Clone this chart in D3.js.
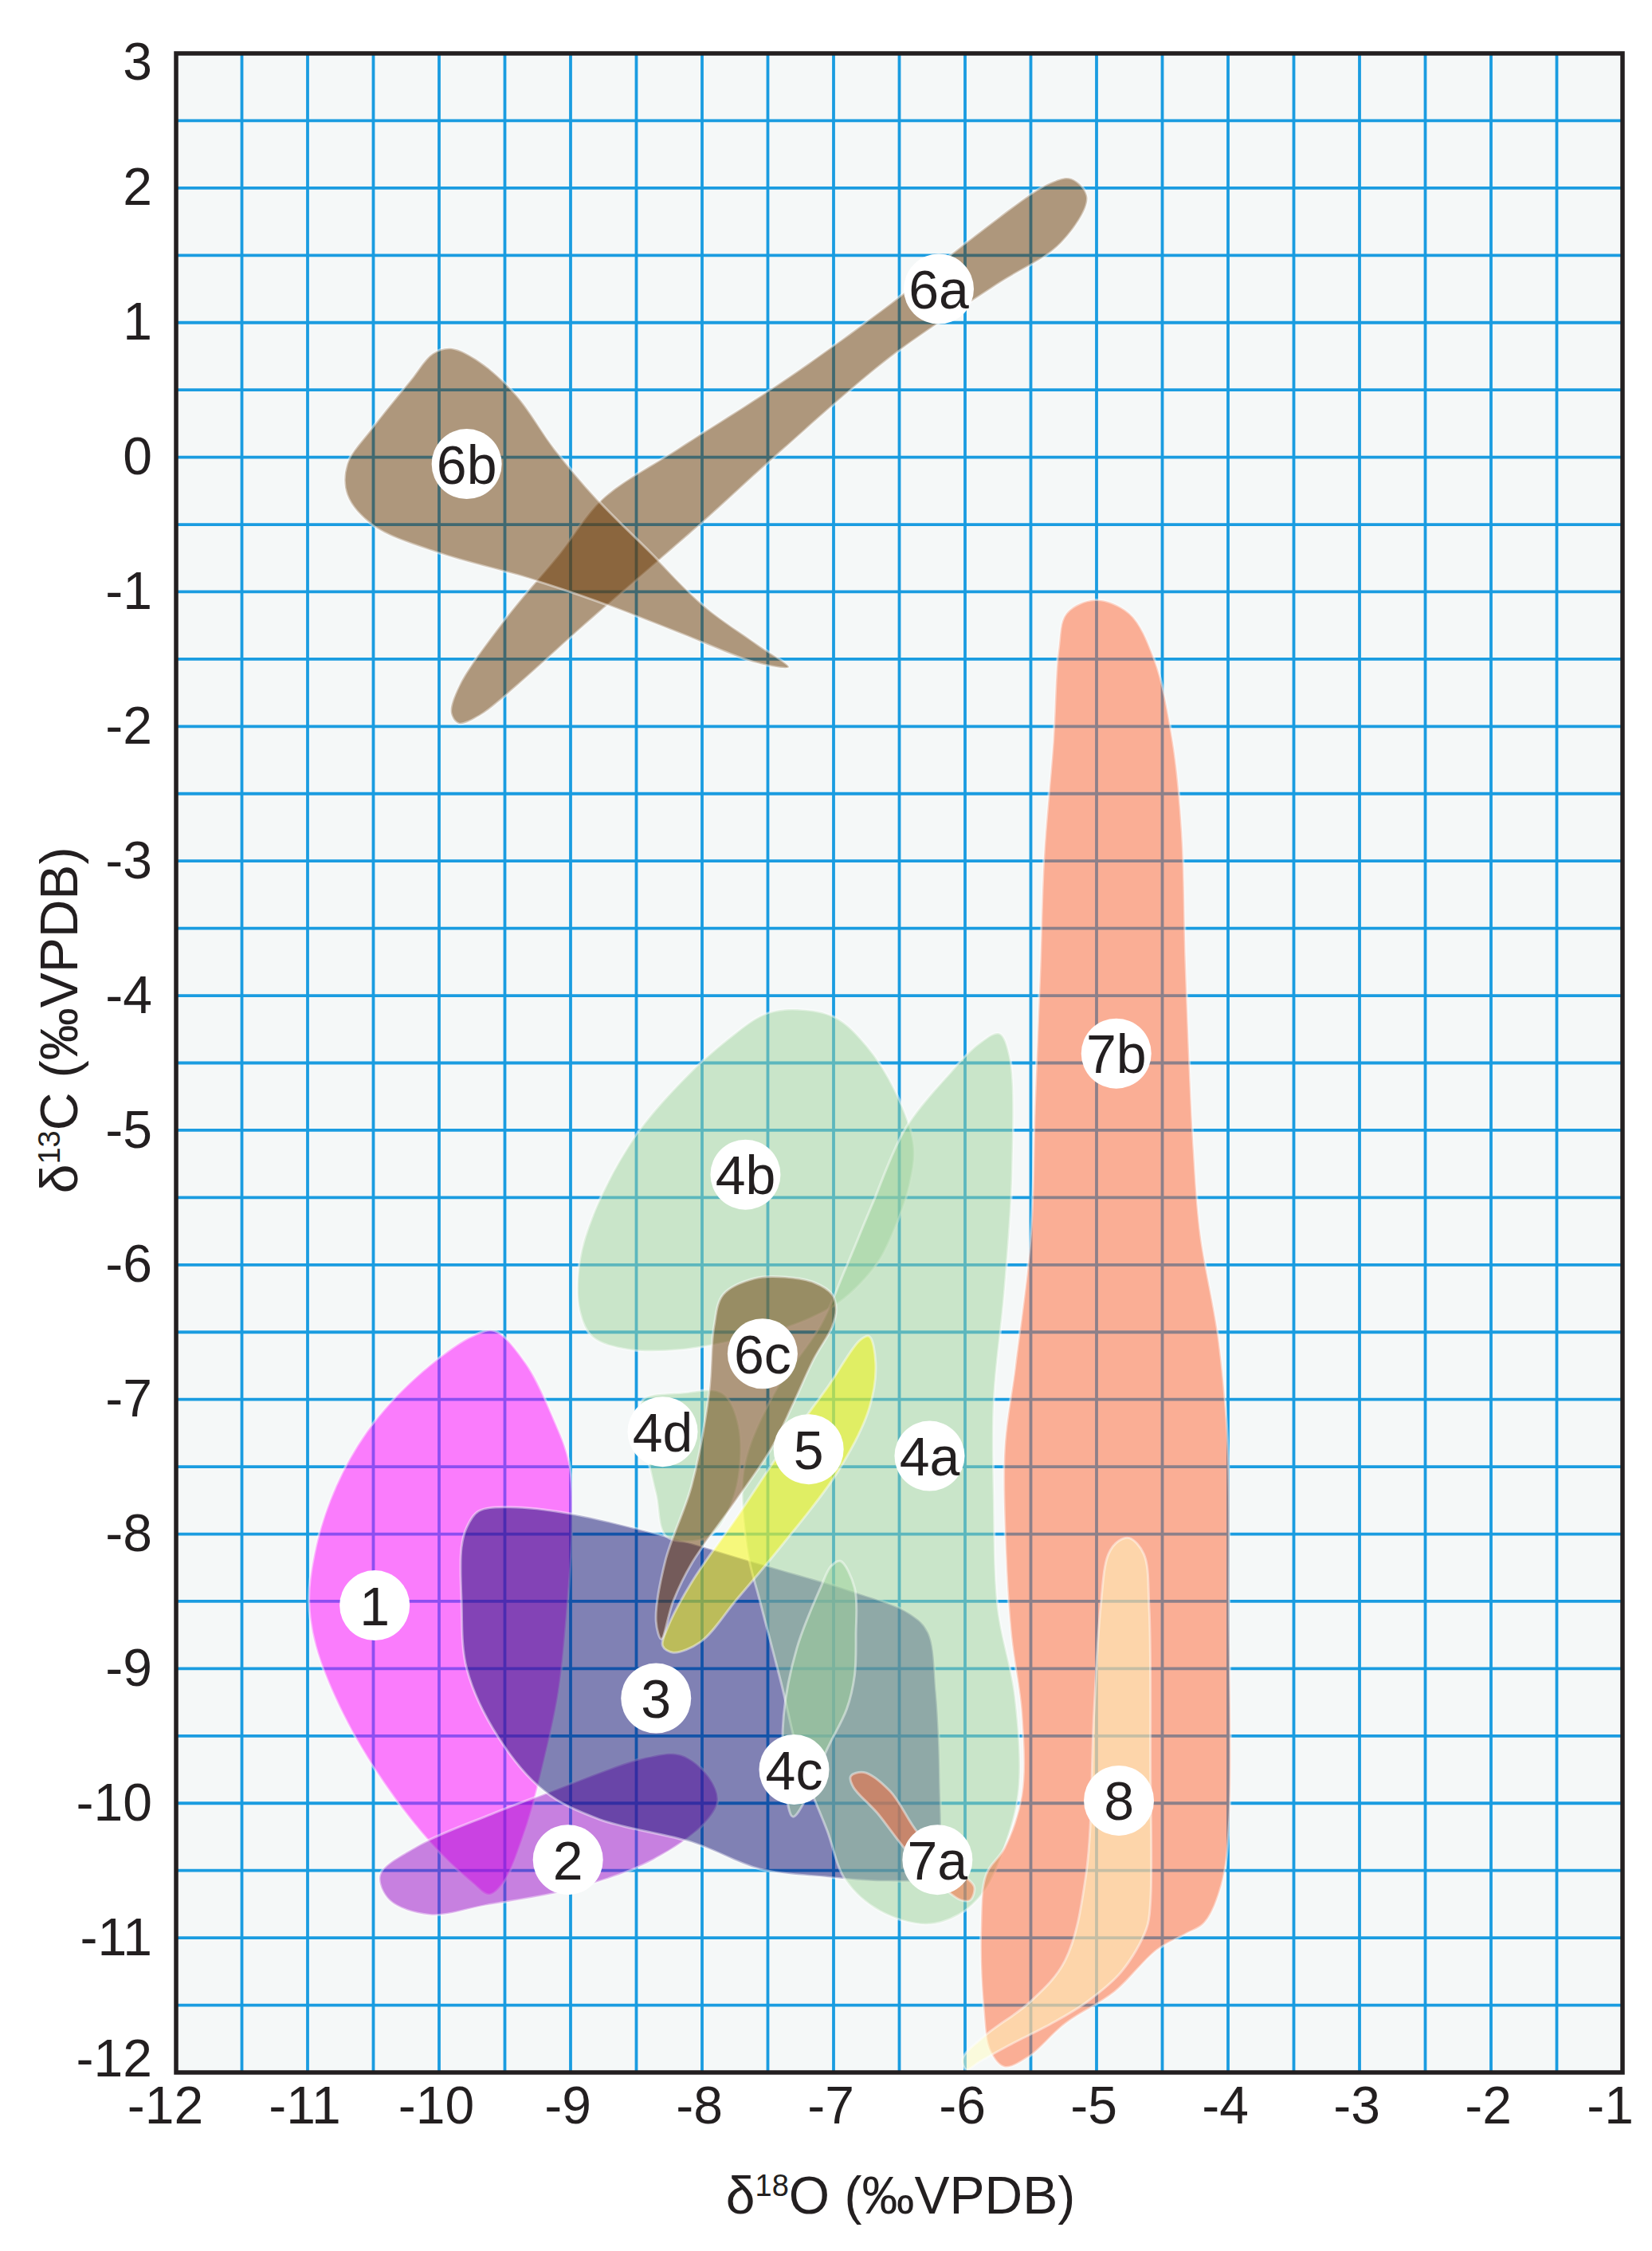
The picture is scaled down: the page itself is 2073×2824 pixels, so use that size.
<!DOCTYPE html>
<html>
<head>
<meta charset="utf-8">
<script src="https://cdn.jsdelivr.net/npm/d3@7"></script>
<style>
  body { margin: 0; background: #fff; }
  text { font-family: "Liberation Sans", Arial, sans-serif; fill: #231f20; }
</style>
</head>
<body>
<svg id="chart" width="2073" height="2824"></svg>
<script>
// axis ticks
const xTicks = [-12, -11, -10, -9, -8, -7, -6, -5, -4, -3, -2, -1];
const yTicks = [3, 2, 1, 0, -1, -2, -3, -4, -5, -6, -7, -8, -9, -10, -11, -12];

// fields, [d18O, d13C] outline points
const field1 = [[-9.58,-6.49],[-9.34,-6.73],[-9.13,-7.14],[-9.01,-7.47],[-8.99,-7.98],[-9.02,-8.49],[-9.09,-9.17],[-9.20,-9.68],[-9.34,-10.19],[-9.51,-10.59],[-9.62,-10.68],[-9.75,-10.59],[-10.07,-10.29],[-10.42,-9.85],[-10.73,-9.34],[-10.94,-8.83],[-10.99,-8.49],[-10.95,-8.15],[-10.83,-7.75],[-10.62,-7.34],[-10.35,-7.00],[-10.00,-6.69],[-9.75,-6.53]];
const field2 = [[-10.45,-10.53],[-10.17,-10.32],[-9.60,-10.08],[-9.20,-9.93],[-8.43,-9.66],[-8.16,-9.64],[-7.95,-9.80],[-7.88,-9.98],[-7.98,-10.15],[-8.37,-10.42],[-8.95,-10.63],[-9.65,-10.76],[-10.07,-10.83],[-10.38,-10.72]];
const field3 = [[-9.79,-7.95],[-9.70,-7.83],[-9.48,-7.80],[-8.99,-7.85],[-8.26,-8.02],[-7.56,-8.22],[-6.87,-8.42],[-6.42,-8.59],[-6.28,-8.73],[-6.22,-9.17],[-6.19,-9.85],[-6.20,-10.35],[-6.30,-10.55],[-6.60,-10.58],[-7.04,-10.55],[-7.56,-10.49],[-8.08,-10.29],[-8.78,-10.12],[-9.20,-9.91],[-9.55,-9.51],[-9.79,-9.00],[-9.83,-8.49],[-9.83,-8.10]];
const field4a = [[-5.74,-4.28],[-5.66,-4.45],[-5.64,-5.30],[-5.70,-6.20],[-5.78,-7.00],[-5.78,-7.75],[-5.75,-8.55],[-5.62,-9.20],[-5.59,-9.90],[-5.70,-10.33],[-5.85,-10.65],[-6.05,-10.83],[-6.30,-10.90],[-6.65,-10.80],[-6.91,-10.57],[-7.05,-10.20],[-7.25,-9.70],[-7.40,-9.10],[-7.56,-8.50],[-7.66,-8.10],[-7.68,-7.50],[-7.45,-6.95],[-7.10,-6.45],[-6.91,-6.03],[-6.71,-5.56],[-6.45,-4.98],[-6.12,-4.58],[-5.90,-4.36]];
const field4b = [[-7.31,-4.10],[-6.99,-4.16],[-6.75,-4.37],[-6.53,-4.71],[-6.39,-5.11],[-6.42,-5.40],[-6.53,-5.72],[-6.66,-5.98],[-6.88,-6.22],[-7.04,-6.33],[-7.34,-6.46],[-7.74,-6.56],[-8.15,-6.63],[-8.56,-6.63],[-8.83,-6.54],[-8.93,-6.35],[-8.93,-5.96],[-8.80,-5.56],[-8.50,-5.03],[-8.15,-4.63],[-7.80,-4.32],[-7.53,-4.14]];
const field4c = [[-6.95,-8.20],[-6.84,-8.40],[-6.83,-8.75],[-6.84,-9.05],[-6.90,-9.30],[-7.05,-9.60],[-7.20,-9.95],[-7.31,-10.10],[-7.37,-9.85],[-7.38,-9.35],[-7.28,-8.85],[-7.10,-8.40],[-7.02,-8.24]];
const field4d = [[-8.45,-7.00],[-8.15,-6.95],[-7.85,-6.95],[-7.72,-7.20],[-7.75,-7.70],[-7.95,-8.02],[-8.27,-8.02],[-8.35,-7.71],[-8.41,-7.45],[-8.46,-7.15]];
const field5 = [[-6.73,-6.53],[-6.68,-6.73],[-6.73,-7.07],[-6.97,-7.54],[-7.39,-8.08],[-7.74,-8.49],[-8.01,-8.80],[-8.22,-8.88],[-8.30,-8.83],[-8.26,-8.69],[-8.08,-8.36],[-7.74,-7.88],[-7.39,-7.37],[-7.04,-6.90],[-6.80,-6.56]];
const field6a = [[-5.19,2.07],[-5.07,1.93],[-5.27,1.59],[-5.76,1.28],[-6.57,0.74],[-7.38,0.06],[-7.99,-0.48],[-8.39,-0.82],[-8.92,-1.27],[-9.41,-1.70],[-9.69,-1.92],[-9.85,-1.98],[-9.91,-1.90],[-9.85,-1.70],[-9.49,-1.19],[-9.08,-0.71],[-8.76,-0.31],[-8.19,0.06],[-7.38,0.57],[-6.57,1.14],[-5.96,1.62],[-5.35,2.04]];
const field6b = [[-9.91,0.81],[-9.69,0.71],[-9.41,0.46],[-9.12,0.06],[-8.80,-0.31],[-8.39,-0.71],[-7.99,-1.10],[-7.58,-1.39],[-7.34,-1.56],[-7.58,-1.53],[-8.19,-1.30],[-8.80,-1.07],[-9.32,-0.90],[-10.01,-0.71],[-10.50,-0.51],[-10.70,-0.28],[-10.70,-0.05],[-10.50,0.23],[-10.22,0.57],[-10.05,0.77]];
const field6c = [[-7.84,-6.22],[-7.60,-6.10],[-7.37,-6.09],[-7.15,-6.13],[-7.01,-6.22],[-6.98,-6.33],[-7.01,-6.46],[-7.15,-6.70],[-7.31,-7.04],[-7.47,-7.36],[-7.74,-7.75],[-8.08,-8.22],[-8.22,-8.50],[-8.31,-8.78],[-8.35,-8.65],[-8.28,-8.20],[-8.08,-7.64],[-7.95,-6.97],[-7.91,-6.46]];
const field7a = [[-6.87,-9.80],[-6.77,-9.77],[-6.57,-9.91],[-6.35,-10.23],[-6.03,-10.52],[-5.93,-10.62],[-5.96,-10.72],[-6.03,-10.72],[-6.15,-10.64],[-6.43,-10.37],[-6.67,-10.07],[-6.85,-9.88]];
const field7b = [[-5.01,-1.06],[-4.75,-1.16],[-4.56,-1.50],[-4.42,-2.11],[-4.35,-2.79],[-4.32,-3.81],[-4.26,-5.16],[-4.21,-5.77],[-4.07,-6.56],[-4.00,-7.36],[-3.99,-8.55],[-3.99,-10.13],[-4.05,-10.61],[-4.18,-10.89],[-4.32,-10.97],[-4.54,-11.09],[-4.86,-11.40],[-5.24,-11.64],[-5.51,-11.88],[-5.70,-11.96],[-5.81,-11.84],[-5.86,-11.52],[-5.88,-10.93],[-5.84,-10.53],[-5.70,-10.33],[-5.57,-9.94],[-5.57,-9.34],[-5.65,-8.75],[-5.69,-8.15],[-5.70,-7.36],[-5.62,-6.76],[-5.50,-5.77],[-5.47,-4.82],[-5.43,-3.81],[-5.40,-2.96],[-5.33,-2.11],[-5.29,-1.43],[-5.23,-1.16]];
const field8 = [[-4.75,-8.03],[-4.64,-8.15],[-4.60,-8.55],[-4.59,-9.74],[-4.59,-10.73],[-4.62,-10.93],[-4.81,-11.25],[-5.08,-11.48],[-5.35,-11.64],[-5.67,-11.80],[-5.89,-11.92],[-5.99,-11.98],[-6.02,-11.90],[-5.84,-11.72],[-5.51,-11.48],[-5.24,-11.17],[-5.08,-10.53],[-5.02,-9.34],[-4.97,-8.55],[-4.91,-8.15],[-4.83,-8.05]];

// field labels
const labelNames = ["6a", "6b", "7b", "4b", "6c", "4d", "5", "4a", "1", "3", "4c", "8", "2", "7a"];
const labelX = [-6.20, -9.79, -4.85, -7.67, -7.54, -8.30, -7.19, -6.27, -10.49, -8.35, -7.30, -4.83, -9.02, -6.21];
const labelY = [1.25, -0.05, -4.43, -5.33, -6.66, -7.24, -7.37, -7.42, -8.53, -9.22, -9.75, -9.98, -10.42, -10.42];

// drawing order and colours
const fields = [
  { pts: field1, color: "#ff00ff" },
  { pts: field2, color: "#9a08c8" },
  { pts: field3, color: "#0c0a70" },
  { pts: field4b, color: "#9dd29a" },
  { pts: field4a, color: "#9dd29a" },
  { pts: field4d, color: "#9dd29a" },
  { pts: field4c, color: "#9dd29a" },
  { pts: field5, color: "#f8f800" },
  { pts: field6c, color: "#673600" },
  { pts: field7a, color: "#ff6432" },
  { pts: field7b, color: "#ff6432" },
  { pts: field8, color: "#fffcbf" },
  { pts: field6a, color: "#673600" },
  { pts: field6b, color: "#673600" }
];

const svg = d3.select("#chart");
const plotLeft = 221, plotRight = 2036, plotTop = 67, plotBottom = 2600;

const x = d3.scaleLinear().domain([-12, -1]).range([plotLeft, plotRight]);
const y = d3.scaleLinear().domain([-12, 3]).range([plotBottom, plotTop]);

// plot background
svg.append("rect")
  .attr("x", plotLeft).attr("y", plotTop)
  .attr("width", plotRight - plotLeft).attr("height", plotBottom - plotTop)
  .attr("fill", "#f5f8f8");

// grid every 0.5
const grid = svg.append("g").attr("stroke", "#1a9ce0").attr("stroke-width", 3.8);
grid.selectAll(".vx")
  .data(d3.range(-11.5, -0.9, 0.5))
  .join("line")
  .attr("x1", d => x(d)).attr("x2", d => x(d))
  .attr("y1", plotTop).attr("y2", plotBottom);
grid.selectAll(".hy")
  .data(d3.range(-11.5, 2.9, 0.5))
  .join("line")
  .attr("y1", d => y(d)).attr("y2", d => y(d))
  .attr("x1", plotLeft).attr("x2", plotRight);

// clip to plot
svg.append("clipPath").attr("id", "plot-clip")
  .append("rect")
  .attr("x", plotLeft).attr("y", plotTop)
  .attr("width", plotRight - plotLeft).attr("height", plotBottom - plotTop);

const line = d3.line()
  .x(d => x(d[0]))
  .y(d => y(d[1]))
  .curve(d3.curveCatmullRomClosed.alpha(0.5));

svg.append("g")
  .attr("clip-path", "url(#plot-clip)")
  .selectAll("path")
  .data(fields)
  .join("path")
  .attr("d", d => line(d.pts))
  .attr("fill", d => d.color)
  .attr("fill-opacity", 0.5)
  .attr("stroke", "#ffffff")
  .attr("stroke-opacity", 0.45)
  .attr("stroke-width", 3);

// frame
svg.append("rect")
  .attr("x", plotLeft).attr("y", plotTop)
  .attr("width", plotRight - plotLeft).attr("height", plotBottom - plotTop)
  .attr("fill", "none")
  .attr("stroke", "#231f20")
  .attr("stroke-width", 5.5);

// labels
const labels = svg.append("g")
  .selectAll("g")
  .data(labelNames)
  .join("g")
  .attr("transform", (d, i) => `translate(${x(labelX[i])},${y(labelY[i])})`);

labels.append("circle")
  .attr("r", 44)
  .attr("fill", "#ffffff");

labels.append("text")
  .attr("text-anchor", "middle")
  .attr("dy", "0.36em")
  .style("font-size", "68px")
  .text(d => d);

// axes (plain hyphen minus as in the figure)
const xAxis = d3.axisBottom(x).tickValues(xTicks).tickFormat(d => String(d)).tickSize(0).tickPadding(17);
const yAxis = d3.axisLeft(y).tickValues(yTicks).tickFormat(d => String(d)).tickSize(0).tickPadding(30);

const gx = svg.append("g")
  .attr("transform", `translate(0,${plotBottom})`)
  .call(xAxis);
gx.select(".domain").remove();
gx.selectAll("text")
  .attr("x", d => d === -12 ? -14 : d === -1 ? -16 : -4)
  .style("font-size", "66px")
  .style("font-family", '"Liberation Sans", Arial, sans-serif')
  .attr("fill", "#231f20");

const gy = svg.append("g")
  .attr("transform", `translate(${plotLeft},0)`)
  .call(yAxis);
gy.select(".domain").remove();
gy.selectAll("text")
  .attr("y", d => d === 3 ? 11 : d === -12 ? -17 : 0)
  .style("font-size", "66px")
  .style("font-family", '"Liberation Sans", Arial, sans-serif')
  .attr("fill", "#231f20");

// axis titles
const xTitle = svg.append("text")
  .attr("x", 1130)
  .attr("y", 2777)
  .attr("text-anchor", "middle")
  .style("font-size", "66px");
xTitle.append("tspan").text("δ");
xTitle.append("tspan").attr("dy", -22).style("font-size", "38px").text("18");
xTitle.append("tspan").attr("dy", 22).text("O (‰VPDB)");

const yTitle = svg.append("text")
  .attr("transform", "translate(97,1280) rotate(-90)")
  .attr("text-anchor", "middle")
  .style("font-size", "66px");
yTitle.append("tspan").text("δ");
yTitle.append("tspan").attr("dy", -22).style("font-size", "38px").text("13");
yTitle.append("tspan").attr("dy", 22).text("C (‰VPDB)");
</script>
</body>
</html>
